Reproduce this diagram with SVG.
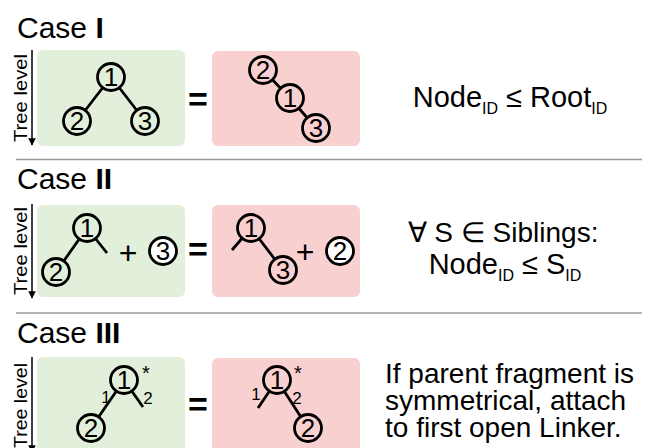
<svg xmlns="http://www.w3.org/2000/svg" width="646" height="448" viewBox="0 0 646 448">
  <defs>
    <style>
      text { font-family: "Liberation Sans", Arial, sans-serif; fill: #000; }
      .title { font-size: 30px; }
      .num { font-weight: bold; }
      .rule { font-size: 29px; }
      .sub { font-size: 16px; }
      .note { font-size: 28px; }
      .axis { font-size: 18px; }
      .id { font-size: 26px; text-anchor: middle; }
      .lnk { font-size: 17px; text-anchor: middle; }
      .star { font-size: 20px; text-anchor: middle; }
      .op { font-size: 32px; text-anchor: middle; }
      .eq { font-size: 34px; font-weight: bold; text-anchor: middle; }
      .good { fill: #e2efda; }
      .bad { fill: #f9d0d0; }
      .edge { stroke: #000; stroke-width: 2.8; stroke-linecap: butt; fill: none; }
      .sep { stroke: #999; stroke-width: 1.5; }
      .lvl { stroke: #000; stroke-width: 1.5; }
      circle { stroke: #000; stroke-width: 2.8; }
      circle.g { fill: #e2efda; }
      circle.r { fill: #f9d0d0; }
      circle.w { fill: #fff; }
    </style>
    <marker id="arrow" viewBox="0 0 10 10" refX="9" refY="5" markerWidth="5" markerHeight="5" orient="auto">
      <path d="M0,0 L10,5 L0,10 z" fill="#000"/>
    </marker>
  </defs>

  <rect width="646" height="448" fill="#fff"/>

  <!-- section separators -->
  <line class="sep" x1="16" y1="159.5" x2="642" y2="159.5"/>
  <line class="sep" x1="16" y1="313" x2="642" y2="313"/>

  <!-- titles -->
  <text class="title" x="17" y="38">Case <tspan class="num">I</tspan></text>
  <text class="title" x="17" y="189">Case <tspan class="num">II</tspan></text>
  <text class="title" x="17" y="343">Case <tspan class="num">III</tspan></text>

  <!-- tree level axes -->
  <g id="axis1">
    <line class="lvl" x1="32" y1="50" x2="32" y2="145" marker-end="url(#arrow)"/>
    <text class="axis" transform="translate(27,142) rotate(-90)" textLength="88" lengthAdjust="spacingAndGlyphs">Tree level</text>
  </g>
  <g id="axis2">
    <line class="lvl" x1="32" y1="204" x2="32" y2="298" marker-end="url(#arrow)"/>
    <text class="axis" transform="translate(27,295) rotate(-90)" textLength="88" lengthAdjust="spacingAndGlyphs">Tree level</text>
  </g>
  <g id="axis3">
    <line class="lvl" x1="32" y1="357" x2="32" y2="452" marker-end="url(#arrow)"/>
    <text class="axis" transform="translate(27,448) rotate(-90)" textLength="85" lengthAdjust="spacingAndGlyphs">Tree level</text>
  </g>

  <!-- panels -->
  <rect class="good" x="37" y="50" width="148" height="96" rx="6"/>
  <rect class="bad" x="212" y="51" width="148" height="95" rx="6"/>
  <rect class="good" x="37" y="205" width="148" height="92" rx="6"/>
  <rect class="bad" x="212" y="205" width="148" height="92" rx="6"/>
  <rect class="good" x="37" y="357" width="148" height="100" rx="6"/>
  <rect class="bad" x="212" y="358" width="148" height="100" rx="6"/>

  <!-- connectors -->
  <g id="connectors">
    <line class="edge" x1="111" y1="77" x2="77" y2="121"/>
    <line class="edge" x1="111" y1="77" x2="145" y2="121"/>
    <line class="edge" x1="263" y1="70" x2="290" y2="98"/>
    <line class="edge" x1="290" y1="98" x2="316" y2="128"/>
    <line class="edge" x1="87" y1="228" x2="56" y2="272"/>
    <line class="edge" x1="87" y1="228" x2="107" y2="253"/>
    <line class="edge" x1="251" y1="228" x2="232" y2="250"/>
    <line class="edge" x1="251" y1="228" x2="283" y2="270"/>
    <line class="edge" x1="124" y1="380" x2="91" y2="428"/>
    <line class="edge" x1="124" y1="380" x2="143" y2="407"/>
    <line class="edge" x1="277" y1="380" x2="258" y2="408"/>
    <line class="edge" x1="277" y1="380" x2="308" y2="428"/>
  </g>

  <!-- case I nodes -->
  <g id="c1-good-n1"><circle class="g" cx="111" cy="77" r="13.5"/><text class="id" x="111" y="86">1</text></g>
  <g id="c1-good-n2"><circle class="g" cx="77" cy="121" r="13.5"/><text class="id" x="77" y="130">2</text></g>
  <g id="c1-good-n3"><circle class="g" cx="145" cy="121" r="13.5"/><text class="id" x="145" y="130">3</text></g>
  <text class="eq" x="198" y="111">=</text>
  <g id="c1-bad-n2"><circle class="r" cx="263" cy="70" r="13.5"/><text class="id" x="263" y="79">2</text></g>
  <g id="c1-bad-n1"><circle class="r" cx="290" cy="98" r="13.5"/><text class="id" x="290" y="107">1</text></g>
  <g id="c1-bad-n3"><circle class="r" cx="316" cy="128" r="13.5"/><text class="id" x="316" y="137">3</text></g>

  <!-- case II nodes -->
  <g id="c2-good-n1"><circle class="g" cx="87" cy="228" r="13.5"/><text class="id" x="87" y="237">1</text></g>
  <g id="c2-good-n2"><circle class="g" cx="56" cy="272" r="13.5"/><text class="id" x="56" y="281">2</text></g>
  <text class="op" x="128" y="264">+</text>
  <g id="c2-free-n3"><circle class="w" cx="163" cy="251" r="13.5"/><text class="id" x="163" y="260">3</text></g>
  <text class="eq" x="198" y="261">=</text>
  <g id="c2-bad-n1"><circle class="r" cx="251" cy="228" r="13.5"/><text class="id" x="251" y="237">1</text></g>
  <g id="c2-bad-n3"><circle class="r" cx="283" cy="270" r="13.5"/><text class="id" x="283" y="279">3</text></g>
  <text class="op" x="305" y="263">+</text>
  <g id="c2-free-n2"><circle class="w" cx="340" cy="251" r="13.5"/><text class="id" x="340" y="260">2</text></g>

  <!-- case III nodes -->
  <g id="c3-good-n1">
    <circle class="g" cx="124" cy="380" r="13.5"/><text class="id" x="124" y="389">1</text>
    <text class="star" x="146" y="380">*</text>
    <text class="lnk" x="106" y="403">1</text>
    <text class="lnk" x="148" y="404">2</text>
  </g>
  <g id="c3-good-n2"><circle class="g" cx="91" cy="428" r="13.5"/><text class="id" x="91" y="437">2</text></g>
  <text class="eq" x="198" y="416">=</text>
  <g id="c3-bad-n1">
    <circle class="r" cx="277" cy="380" r="13.5"/><text class="id" x="277" y="389">1</text>
    <text class="star" x="298" y="380">*</text>
    <text class="lnk" x="256" y="400">1</text>
    <text class="lnk" x="297" y="404">2</text>
  </g>
  <g id="c3-bad-n2"><circle class="r" cx="308" cy="428" r="13.5"/><text class="id" x="308" y="437">2</text></g>

  <!-- rules -->
  <text class="rule" x="510" y="107" text-anchor="middle">Node<tspan class="sub" dy="7">ID</tspan><tspan dy="-7"> ≤ Root</tspan><tspan class="sub" dy="7">ID</tspan></text>
  <text class="rule" x="503" y="242" text-anchor="middle" style="font-size:28px">∀ S ∈ Siblings:</text>
  <text class="rule" x="505" y="274" text-anchor="middle">Node<tspan class="sub" dy="7">ID</tspan><tspan dy="-7"> ≤ S</tspan><tspan class="sub" dy="7">ID</tspan></text>
  <text class="note" x="385" y="383">If parent fragment is</text>
  <text class="note" x="385" y="410">symmetrical, attach</text>
  <text class="note" x="385" y="437">to first open Linker.</text>
</svg>
